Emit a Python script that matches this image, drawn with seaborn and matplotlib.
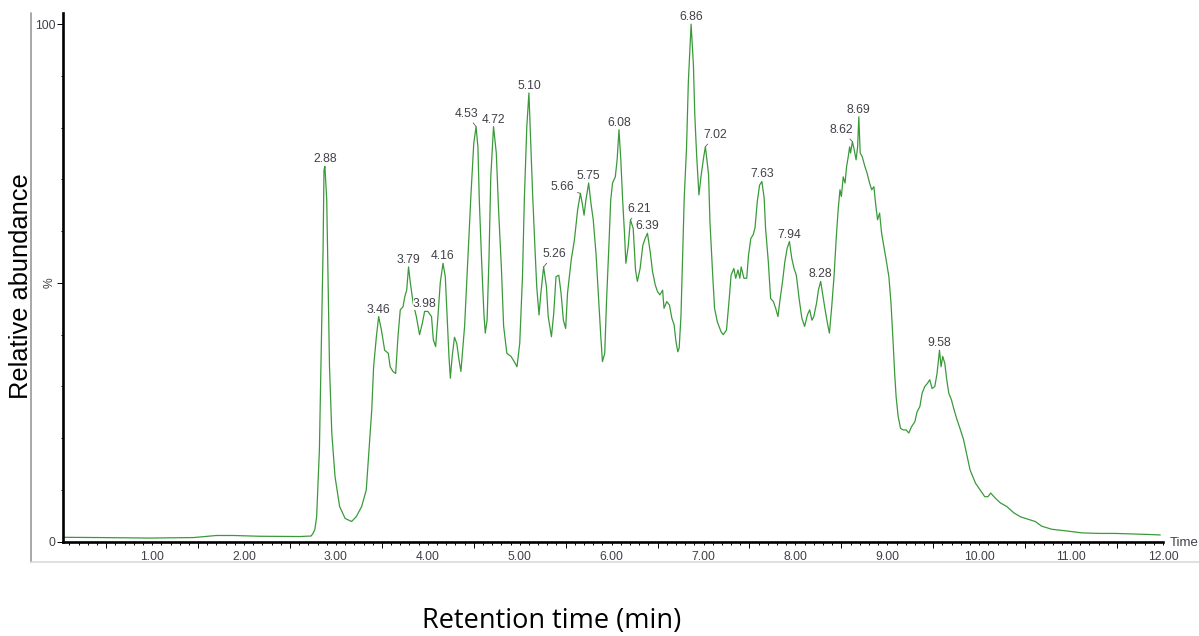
import matplotlib
matplotlib.use('Agg')
import matplotlib.pyplot as plt
from matplotlib.lines import Line2D
import numpy as np
import pandas as pd
import seaborn as sns

# Chromatogram trace (retention time in min, relative abundance in %)
rt = [0.04, 0.43, 0.98, 1.45, 1.70, 1.88, 2.17, 2.61, 2.73, 2.75, 2.77, 2.79, 2.82, 2.84,
      2.86, 2.87, 2.88, 2.90, 2.915, 2.93, 2.955, 2.99, 3.04, 3.10, 3.17, 3.22, 3.28, 3.33,
      3.36, 3.39, 3.41, 3.44, 3.465, 3.495, 3.53, 3.57, 3.59, 3.62, 3.65, 3.675, 3.70, 3.73,
      3.75, 3.77, 3.79, 3.81, 3.84, 3.875, 3.91, 3.94, 3.965, 4.00, 4.04, 4.06, 4.085, 4.11,
      4.135, 4.165, 4.19, 4.21, 4.23, 4.245, 4.265, 4.29, 4.315, 4.34, 4.36, 4.40, 4.435,
      4.47, 4.50, 4.525, 4.545, 4.56, 4.585, 4.61, 4.625, 4.645, 4.665, 4.685, 4.715, 4.745,
      4.77, 4.80, 4.825, 4.86, 4.905, 4.94, 4.97, 5.00, 5.03, 5.05, 5.077, 5.10, 5.12, 5.14,
      5.165, 5.185, 5.21, 5.23, 5.26, 5.29, 5.31, 5.345, 5.37, 5.395, 5.425, 5.45, 5.475,
      5.50, 5.52, 5.56, 5.595, 5.63, 5.66, 5.68, 5.70, 5.72, 5.75, 5.775, 5.80, 5.83, 5.855,
      5.88, 5.90, 5.925, 5.945, 5.97, 5.99, 6.01, 6.04, 6.06, 6.08, 6.10, 6.12, 6.14, 6.155,
      6.18, 6.205, 6.235, 6.26, 6.28, 6.31, 6.34, 6.365, 6.39, 6.42, 6.445, 6.475, 6.50,
      6.525, 6.555, 6.57, 6.60, 6.63, 6.655, 6.68, 6.70, 6.72, 6.735, 6.755, 6.77, 6.79,
      6.815, 6.835, 6.865, 6.89, 6.905, 6.925, 6.95, 6.975, 7.00, 7.02, 7.035, 7.055, 7.07,
      7.10, 7.12, 7.15, 7.19, 7.215, 7.25, 7.28, 7.30, 7.33, 7.35, 7.375, 7.395, 7.41, 7.44,
      7.47, 7.49, 7.515, 7.54, 7.56, 7.585, 7.61, 7.635, 7.66, 7.675, 7.705, 7.73, 7.76,
      7.785, 7.81, 7.83, 7.86, 7.885, 7.91, 7.935, 7.96, 7.985, 8.01, 8.04, 8.07, 8.10, 8.13,
      8.155, 8.18, 8.20, 8.23, 8.25, 8.275, 8.30, 8.33, 8.355, 8.37, 8.395, 8.42, 8.445,
      8.465, 8.485, 8.50, 8.52, 8.54, 8.557, 8.575, 8.59, 8.60, 8.62, 8.64, 8.66, 8.677,
      8.69, 8.705, 8.727, 8.756, 8.78, 8.807, 8.83, 8.854, 8.872, 8.894, 8.916, 8.938, 8.963,
      8.988, 9.017, 9.04, 9.06, 9.08, 9.096, 9.118, 9.144, 9.172, 9.205, 9.234, 9.263, 9.30,
      9.324, 9.354, 9.379, 9.408, 9.437, 9.462, 9.487, 9.517, 9.541, 9.568, 9.585, 9.603,
      9.625, 9.647, 9.669, 9.698, 9.726, 9.76, 9.796, 9.83, 9.87, 9.90, 9.96, 10.01, 10.06,
      10.095, 10.125, 10.176, 10.23, 10.30, 10.375, 10.45, 10.54, 10.61, 10.68, 10.79, 10.94,
      11.12, 11.30, 11.48, 11.66, 11.84, 11.97]
abundance = [0.85, 0.8, 0.7, 0.8, 1.2, 1.2, 1.05, 1.0, 1.1, 1.6, 2.3, 4.8, 17.7, 37.0,
             56.4, 71.8, 72.5, 66.0, 50.0, 33.8, 21.0, 12.6, 6.8, 4.5, 3.9, 4.8, 6.8, 10.0,
             17.7, 25.5, 33.8, 39.6, 43.5, 40.9, 37.0, 36.4, 33.8, 32.9, 32.5, 39.6, 44.8, 45.4,
             47.4, 48.6, 53.1, 50.0, 46.1, 43.5, 40.0, 42.2, 44.5, 44.5, 43.5, 39.0, 37.7, 43.5,
             50.0, 53.8, 51.2, 43.5, 35.8, 31.6, 35.8, 39.5, 38.3, 35.0, 32.9, 41.6, 54.4,
             67.3, 77.0, 80.2, 76.3, 66.0, 54.4, 44.1, 40.3, 42.8, 54.4, 70.5, 80.2, 75.1,
             64.1, 53.1, 41.6, 36.4, 35.8, 34.8, 33.8, 38.3, 51.2, 66.0, 80.2, 86.7, 77.0, 67.3,
             57.0, 49.3, 43.8, 48.0, 53.1, 49.3, 43.5, 39.6, 44.1, 51.2, 51.5, 48.0, 42.8,
             41.2, 48.0, 54.4, 58.3, 64.1, 67.3, 65.4, 63.1, 66.0, 69.3, 65.4, 62.2, 55.7, 48.0,
             40.3, 34.8, 36.4, 46.7, 57.0, 66.0, 69.3, 70.5, 73.8, 79.6, 73.8, 66.0, 59.6, 53.8,
             57.0, 62.2, 60.5, 52.5, 50.3, 52.8, 57.3, 58.6, 59.6, 56.0, 52.2, 49.6, 48.3,
             47.7, 48.6, 45.1, 46.4, 45.7, 43.2, 41.9, 38.7, 36.7, 37.4, 43.8, 53.5, 66.4,
             76.0, 88.9, 100.0, 92.1, 82.5, 74.7, 67.0, 70.9, 74.1, 76.3, 74.1, 70.9, 61.8,
             51.5, 45.1, 42.5, 40.6, 40.0, 40.9, 47.0, 51.5, 52.8, 50.9, 52.5, 50.9, 53.1, 50.9,
             50.9, 55.4, 58.6, 59.3, 60.6, 65.7, 68.9, 69.6, 66.4, 60.6, 54.1, 47.0, 46.4,
             45.1, 43.5, 46.4, 50.3, 54.1, 56.7, 58.0, 54.8, 52.8, 51.5, 47.0, 43.2, 41.6, 43.8,
             44.8, 42.8, 43.5, 46.1, 48.6, 50.3, 47.4, 44.1, 41.6, 40.3, 45.4, 51.2, 58.9,
             64.1, 68.0, 66.7, 70.5, 69.3, 72.5, 74.4, 76.3, 75.1, 77.3, 75.7, 73.8, 76.3,
             82.1, 75.1, 74.4, 72.5, 71.2, 69.3, 68.0, 68.6, 65.4, 62.2, 63.5, 59.6, 57.0,
             54.4, 51.2, 46.1, 39.6, 32.5, 28.0, 24.2, 21.9, 21.6, 21.6, 21.0, 22.2, 23.2,
             25.1, 26.1, 28.7, 30.0, 30.6, 31.3, 29.6, 30.0, 32.5, 37.0, 33.8, 35.8,
             34.5, 31.3, 28.7, 27.4, 25.5, 23.5, 21.6, 19.7, 16.4, 13.9, 11.3, 10.0, 8.7,
             8.7, 9.4, 8.4, 7.5, 6.8, 5.6, 4.8, 4.3, 3.9, 3.0, 2.4, 2.1,
             1.7, 1.6, 1.6, 1.5, 1.4, 1.3]

# Labelled peaks
peak_labels = ['2.88', '3.46', '3.79', '3.98', '4.16', '4.53', '4.72', '5.10', '5.26',
               '5.66', '5.75', '6.08', '6.21', '6.39', '6.86', '7.02', '7.63', '7.94',
               '8.28', '8.62', '8.69', '9.58']
# labels that sit off to one side with a small leader line (pixel offsets of text centre)
leader_offsets = {'4.53': (-10, 13), '5.26': (11, 13), '5.66': (-18, 6),
                  '6.21': (9, 11), '7.02': (10, 12), '8.62': (-11, 12)}

x_ticks = list(range(1, 13))
x_tick_labels = ['%.2f' % t for t in x_ticks]

df = pd.DataFrame({'rt': rt, 'abundance': abundance})

sns.set_style('white')
plt.rcParams['font.family'] = ['Liberation Sans', 'DejaVu Sans']

W, H = 1199, 636
fig = plt.figure(figsize=(W / 100, H / 100), dpi=100)
ax = fig.add_axes([63 / W, 1 - 541.7 / H, 1100 / W, 528.4 / H])

trace_color = '#3a9a3a'
text_color = '#404048'
sns.lineplot(data=df, x='rt', y='abundance', ax=ax, color=trace_color, linewidth=0.9,
             estimator=None, sort=False)

ax.set_xlim(0.03, 12.0)
ax.set_ylim(0, 102.1)
ax.set_xlabel('')
ax.set_ylabel('')

for side in ['top', 'right']:
    ax.spines[side].set_visible(False)
for side in ['left', 'bottom']:
    ax.spines[side].set_color('black')
    ax.spines[side].set_linewidth(1.9)

# x axis: labels at whole minutes, small ticks every 0.1, longer ticks at the half minutes
ax.set_xticks(x_ticks)
ax.set_xticklabels(x_tick_labels)
ax.set_xticks(np.arange(0.1, 12.0, 0.1), minor=True)
ax.tick_params(axis='x', which='major', direction='out', length=2, width=0.7,
               color='black', pad=5, labelsize=8.7, labelcolor=text_color, bottom=True)
ax.tick_params(axis='x', which='minor', direction='out', length=2, width=0.7,
               color='black', bottom=True)
sec = ax.secondary_xaxis('bottom')
sec.set_xticks(np.arange(0.5, 12.0, 1.0))
sec.tick_params(axis='x', direction='out', length=4, width=0.7, color='black',
                labelbottom=False)
sec.spines['bottom'].set_visible(False)

# y axis: 0, % and 100 labelled, small ticks every 10
ax.set_yticks([0, 50, 100])
ax.set_yticklabels(['0', '%', '100'])
ax.set_yticks(np.arange(10, 100, 10), minor=True)
ax.tick_params(axis='y', which='major', direction='out', length=4.3, width=0.7,
               color='black', pad=1, labelsize=8.7, labelcolor=text_color, left=True)
ax.tick_params(axis='y', which='minor', direction='out', length=1.6, width=0.7,
               color='black', left=True)
ax.get_yticklabels()[1].set_rotation(90)
ax.get_yticklabels()[1].set_va('center')

# peak annotations
rt_arr = np.array(rt)
ab_arr = np.array(abundance)
for lab in peak_labels:
    t = float(lab)
    near = np.abs(rt_arr - t) <= 0.016
    i = np.where(near)[0][np.argmax(ab_arr[near])]
    px, py = rt_arr[i], ab_arr[i]
    if lab in leader_offsets:
        dx, dy = leader_offsets[lab]
        ax.annotate(lab, xy=(px, py), xytext=(dx, dy), textcoords='offset pixels',
                    ha='center', va='center', fontsize=8.7, color=text_color,
                    arrowprops=dict(arrowstyle='-', color='#606060', lw=0.6,
                                    shrinkA=0, shrinkB=0))
    else:
        bbox = dict(facecolor='white', edgecolor='none', pad=0) if lab == '3.98' else None
        ax.annotate(lab, xy=(px, py), xytext=(0, 7), textcoords='offset pixels',
                    ha='center', va='center', fontsize=8.7, color=text_color, bbox=bbox)

fig.text(1170 / W, 1 - 543.3 / H, 'Time', ha='left', va='center', fontsize=9.5,
         color=text_color)

# frame of the pasted software window
fig.add_artist(Line2D([31 / W, 31 / W], [1 - 13 / H, 1 - 562 / H], color='#a0a0a0',
                      linewidth=1.3, transform=fig.transFigure))
fig.add_artist(Line2D([31 / W, 1.0], [1 - 562 / H, 1 - 562 / H], color='#dadada',
                      linewidth=1.2, transform=fig.transFigure))

fig.text(21 / W, 1 - 286 / H, 'Relative abundance', rotation=90, ha='center', va='center',
         fontsize=18.3, color='black')
fig.text(551.5 / W, 1 - 628 / H, 'Retention time (min)', ha='center', va='baseline',
         fontsize=19.5, family=['Open Sans', 'DejaVu Sans'], color='black')

fig.savefig('out.png', dpi=100)
